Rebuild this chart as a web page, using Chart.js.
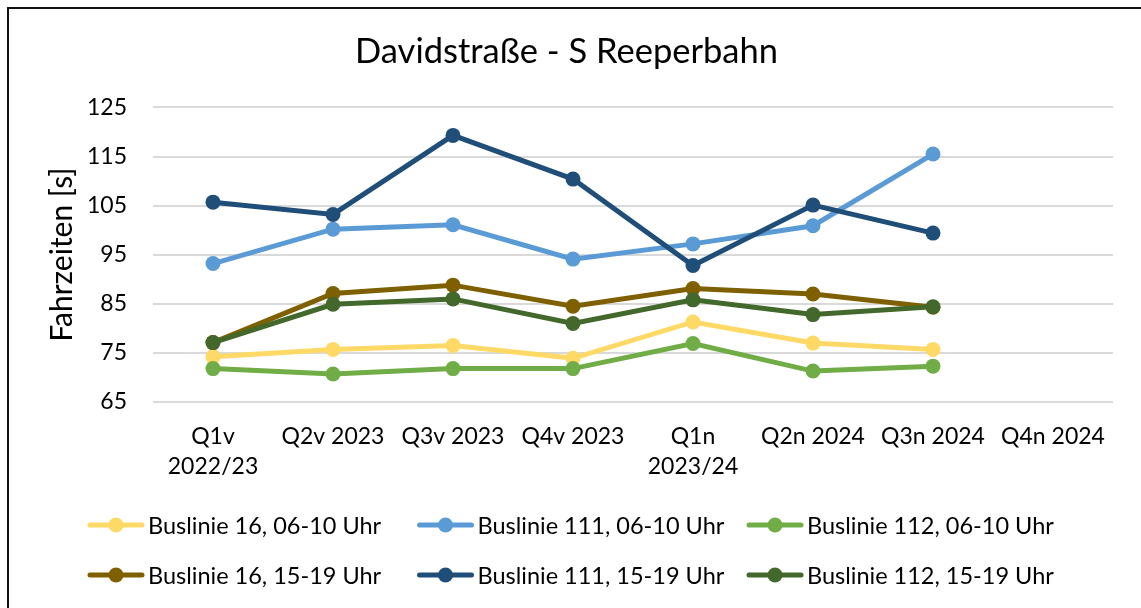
<!DOCTYPE html>
<html>
<head>
<meta charset="utf-8">
<title>Davidstraße - S Reeperbahn</title>
<script src="https://cdn.jsdelivr.net/npm/chart.js@4/dist/chart.umd.min.js"></script>
<style>
  html, body { margin: 0; padding: 0; background: #fff; overflow: hidden; }
  #wrap { position: relative; width: 1141px; height: 608px; }
  #frame { position: absolute; left: 7px; top: 7px; width: 1200px; height: 700px;
           border-left: 2px solid #111; border-top: 2px solid #111; pointer-events: none; }
  canvas { position: absolute; left: 0; top: 0; }
</style>
</head>
<body>
<div id="wrap">
  <canvas id="chart" width="1141" height="608"></canvas>
  <div id="frame"></div>
</div>
<script>
// Quarters (two-line labels where the original wraps)
const quarters = [
    ['Q1v', '2022/23'], 'Q2v 2023', 'Q3v 2023', 'Q4v 2023',
    ['Q1n', '2023/24'], 'Q2n 2024', 'Q3n 2024', 'Q4n 2024'
];

// Travel times in seconds (Q4n 2024 has no data yet)
const line16Morning  = [74.2, 75.7, 76.5, 73.9, 81.3, 77.0, 75.7, null];
const line111Morning = [93.2, 100.2, 101.1, 94.1, 97.2, 100.9, 115.5, null];
const line112Morning = [71.8, 70.7, 71.8, 71.8, 76.9, 71.3, 72.3, null];
const line16Evening  = [77.1, 87.1, 88.8, 84.5, 88.1, 87.0, 84.3, null];
const line111Evening = [105.7, 103.2, 119.3, 110.4, 92.8, 105.1, 99.4, null];
const line112Evening = [77.1, 84.9, 86.0, 81.0, 85.8, 82.8, 84.4, null];

const seriesNames = [
    'Buslinie 16, 06-10 Uhr', 'Buslinie 111, 06-10 Uhr', 'Buslinie 112, 06-10 Uhr',
    'Buslinie 16, 15-19 Uhr', 'Buslinie 111, 15-19 Uhr', 'Buslinie 112, 15-19 Uhr'
];
const seriesColors = ['#FFD966', '#5B9BD5', '#70AD47', '#7F6000', '#1F4E79', '#43682B'];
const seriesValues = [line16Morning, line111Morning, line112Morning,
                      line16Evening, line111Evening, line112Evening];

const yTicks = [65, 75, 85, 95, 105, 115, 125];

const FONT = 'Lato, "Open Sans", sans-serif';

// Excel-style legend: 3 columns, 2 rows, line with a dot in the middle
const bottomLegend = {
    id: 'bottomLegend',
    afterDraw(chart) {
        const ctx = chart.ctx;
        const startX = 88, colW = 329.5, rowY = [525, 575];
        ctx.save();
        ctx.font = '23.5px ' + FONT;
        ctx.textBaseline = 'middle';
        ctx.textAlign = 'left';
        chart.data.datasets.forEach((ds, i) => {
            const x = startX + (i % 3) * colW;
            const y = rowY[Math.floor(i / 3)];
            ctx.strokeStyle = ds.borderColor;
            ctx.lineWidth = 5;
            ctx.lineCap = 'round';
            ctx.beginPath();
            ctx.moveTo(x + 2, y);
            ctx.lineTo(x + 54, y);
            ctx.stroke();
            ctx.fillStyle = ds.borderColor;
            ctx.beginPath();
            ctx.arc(x + 28, y, 7.5, 0, Math.PI * 2);
            ctx.fill();
            ctx.fillStyle = '#000';
            ctx.fillText(ds.label, x + 60, y + 1);
        });
        ctx.restore();
    }
};

const datasets = seriesValues.map((values, i) => ({
    label: seriesNames[i],
    data: values,
    borderColor: seriesColors[i],
    backgroundColor: seriesColors[i],
    borderWidth: 5,
    pointRadius: 7.5,
    pointHoverRadius: 7.5,
    pointBorderWidth: 0,
    tension: 0,
    order: seriesValues.length - i  // later series drawn on top, like Excel
}));

new Chart(document.getElementById('chart'), {
    type: 'line',
    data: { labels: quarters, datasets: datasets },
    options: {
        responsive: false,
        animation: false,
        devicePixelRatio: 1,
        layout: { padding: { left: 20, right: 28, top: 0, bottom: 116 } },
        plugins: {
            legend: { display: false },
            tooltip: { enabled: false },
            title: {
                display: true,
                text: 'Davidstraße - S Reeperbahn',
                color: '#000',
                font: { family: FONT, size: 34.5, weight: 'normal', lineHeight: 1.2 },
                padding: { top: 31, bottom: 35 }
            }
        },
        scales: {
            x: {
                offset: true,
                grid: { display: false, drawTicks: false },
                border: { display: false },
                ticks: {
                    color: '#000',
                    font: { family: FONT, size: 23, lineHeight: 1.3 },
                    padding: 20,
                    maxRotation: 0,
                    autoSkip: false
                },
                afterFit(scale) { scale.height = 90; }
            },
            y: {
                min: 65,
                max: 125,
                afterBuildTicks(scale) { scale.ticks = yTicks.map(v => ({ value: v })); },
                grid: { color: '#D9D9D9', lineWidth: 2, drawTicks: false },
                border: { display: false },
                ticks: {
                    color: '#000',
                    font: { family: FONT, size: 23 },
                    padding: 26
                },
                title: {
                    display: true,
                    text: 'Fahrzeiten [s]',
                    color: '#000',
                    font: { family: FONT, size: 30, lineHeight: 1.2 },
                    padding: { top: 24, bottom: 0 }
                },
                afterFit(scale) { scale.width = 133; }
            }
        }
    },
    plugins: [bottomLegend]
});
</script>
</body>
</html>
